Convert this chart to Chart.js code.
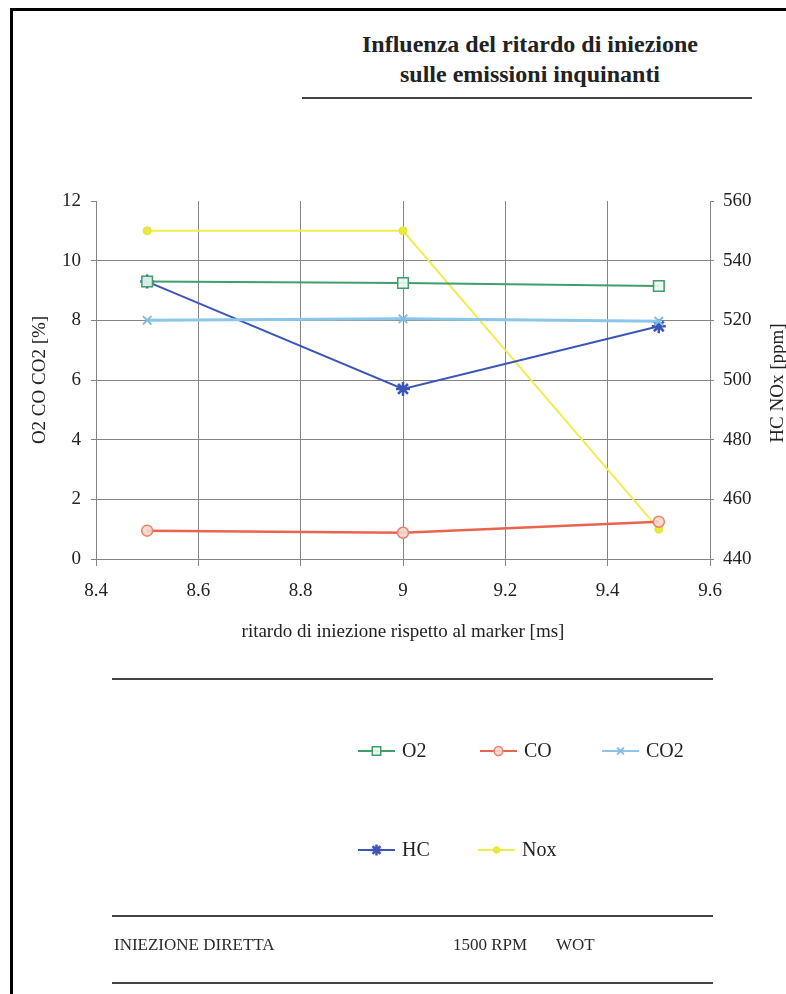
<!DOCTYPE html>
<html lang="it">
<head>
<meta charset="utf-8">
<title>Influenza del ritardo di iniezione sulle emissioni inquinanti</title>
<script src="https://cdn.jsdelivr.net/npm/chart.js"></script>
<style>
  html, body { margin: 0; padding: 0; background: #fff; }
  body {
    width: 786px; height: 994px; position: relative; overflow: hidden;
    font-family: "Liberation Serif", "Times New Roman", serif; color: #222;
  }
  #frame {
    position: absolute; left: 10px; top: 8px; right: 0; bottom: 0;
    border-left: 3px solid #000; border-top: 3px solid #000;
  }
  #emissionsChart { position: absolute; left: 0; top: 0; }
  .rule { position: absolute; height: 2px; background: #444; }
  .heading {
    position: absolute; left: 300px; width: 460px; text-align: center;
    font-weight: bold; font-size: 24px; line-height: 30px; color: #222;
  }
  .footer { position: absolute; top: 935px; font-size: 17px; line-height: 20px; color: #2a2a2a; }
</style>
</head>
<body>
<div id="frame"></div>

<div class="heading" style="top: 29px;">Influenza del ritardo di iniezione<br>sulle emissioni inquinanti</div>
<div class="rule" style="left: 302px; width: 450px; top: 97px;"></div>

<canvas id="emissionsChart" width="786" height="994"></canvas>

<div class="rule" style="left: 112px; width: 601px; top: 678px;"></div>
<div class="rule" style="left: 112px; width: 601px; top: 915px;"></div>
<div class="footer" style="left: 114px;">INIEZIONE DIRETTA</div>
<div class="footer" style="left: 453px;">1500 RPM</div>
<div class="footer" style="left: 556px;">WOT</div>
<div class="rule" style="left: 112px; width: 601px; top: 982px;"></div>

<script>
// ritardo di iniezione [ms]
const ritardo = [8.5, 9, 9.5];

// left axis, %
const o2 = [9.3, 9.25, 9.15];
const co = [0.95, 0.88, 1.25];
const co2 = [8.0, 8.05, 7.97];

// right axis, ppm
const hc = [533, 497, 518];
const nox = [550, 550, 450];

const xTicks = [8.4, 8.6, 8.8, 9, 9.2, 9.4, 9.6];
const yTicks = [0, 2, 4, 6, 8, 10, 12];
const y1Ticks = [440, 460, 480, 500, 520, 540, 560];

const FONT = '"Liberation Serif", "Times New Roman", serif';
const TEXT = '#222';
const GRID = '#858585';

function points(values) {
    return ritardo.map((x, i) => ({ x: x, y: values[i] }));
}

function fixedTicks(list) {
    return scale => { scale.ticks = list.map(v => ({ value: v })); };
}

// legend slots below the plot: two rows, three columns
const legendSlots = [[358, 751], [480, 751], [602, 751], [358, 850], [478, 850]];

const pageLegend = {
    id: 'pageLegend',
    afterDraw(chart) {
        const ctx = chart.ctx;
        chart.data.datasets.forEach((ds, i) => {
            const [x, y] = legendSlots[i];
            ctx.save();
            ctx.strokeStyle = ds.borderColor;
            ctx.lineWidth = Math.min(ds.borderWidth, 2);
            ctx.beginPath();
            ctx.moveTo(x, y);
            ctx.lineTo(x + 37, y);
            ctx.stroke();

            ctx.fillStyle = ds.pointBackgroundColor;
            ctx.strokeStyle = ds.pointBorderColor;
            ctx.lineWidth = ds.pointBorderWidth;
            Chart.helpers.drawPoint(ctx, {
                pointStyle: ds.pointStyle,
                radius: ds.pointRadius * 0.8,
                rotation: 0,
                borderWidth: ds.pointBorderWidth
            }, x + 18.5, y);

            ctx.fillStyle = TEXT;
            ctx.font = '20px ' + FONT;
            ctx.textBaseline = 'middle';
            ctx.textAlign = 'left';
            ctx.fillText(ds.label, x + 44, y + 1);
            ctx.restore();
        });
    }
};

// right axis title reads bottom-to-top like the left one
const rightTitle = {
    id: 'rightTitle',
    afterDraw(chart) {
        const { ctx, chartArea } = chart;
        const scale = chart.scales.y1;
        ctx.save();
        ctx.translate(scale.right - 8, (chartArea.top + chartArea.bottom) / 2 + 3);
        ctx.rotate(-Math.PI / 2);
        ctx.fillStyle = TEXT;
        ctx.font = '19px ' + FONT;
        ctx.textAlign = 'center';
        ctx.textBaseline = 'middle';
        ctx.fillText('HC NOx [ppm]', 0, 0);
        ctx.restore();
    }
};

const datasets = [
    {
        label: 'O2', data: points(o2), yAxisID: 'y',
        borderColor: '#3f9e6b', borderWidth: 2,
        pointStyle: 'rect', pointRadius: 7.5,
        pointBackgroundColor: 'rgba(235,248,240,0.9)', pointBorderColor: '#3f9e6b', pointBorderWidth: 1.5
    },
    {
        label: 'CO', data: points(co), yAxisID: 'y',
        borderColor: '#e8644f', borderWidth: 2.5,
        pointStyle: 'circle', pointRadius: 5.5,
        pointBackgroundColor: 'rgba(250,215,205,0.9)', pointBorderColor: '#e8826a', pointBorderWidth: 1.5
    },
    {
        label: 'CO2', data: points(co2), yAxisID: 'y',
        borderColor: '#8cc6ea', borderWidth: 3,
        pointStyle: 'crossRot', pointRadius: 6,
        pointBackgroundColor: '#8cc6ea', pointBorderColor: '#7fbde6', pointBorderWidth: 2
    },
    {
        label: 'HC', data: points(hc), yAxisID: 'y1',
        borderColor: '#3b56b8', borderWidth: 2,
        pointStyle: 'star', pointRadius: 7,
        pointBackgroundColor: '#3b56b8', pointBorderColor: '#3b56b8', pointBorderWidth: 2.5
    },
    {
        label: 'Nox', data: points(nox), yAxisID: 'y1',
        borderColor: '#eeee50', borderWidth: 2,
        pointStyle: 'circle', pointRadius: 4,
        pointBackgroundColor: '#eaea38', pointBorderColor: '#e2e238', pointBorderWidth: 1
    }
];

new Chart(document.getElementById('emissionsChart'), {
    type: 'line',
    data: { datasets: datasets },
    options: {
        responsive: false,
        animation: false,
        events: [],
        layout: { padding: { top: 201, right: 0, bottom: 340, left: 0 } },
        plugins: {
            legend: { display: false },
            tooltip: { enabled: false }
        },
        scales: {
            x: {
                type: 'linear',
                min: 8.4, max: 9.6,
                afterBuildTicks: fixedTicks(xTicks),
                afterFit: scale => { scale.height = 95; },
                grid: { color: GRID, lineWidth: 1, tickLength: 7, tickColor: GRID },
                border: { display: true, color: GRID, width: 1 },
                ticks: {
                    color: TEXT, padding: 14, maxRotation: 0,
                    font: { family: FONT, size: 19 },
                    callback: v => String(v)
                },
                title: {
                    display: true,
                    text: 'ritardo di iniezione rispetto al marker [ms]',
                    color: TEXT,
                    font: { family: FONT, size: 19 },
                    padding: { top: 0, bottom: 11 }
                }
            },
            y: {
                position: 'left',
                min: 0, max: 12,
                afterBuildTicks: fixedTicks(yTicks),
                afterFit: scale => { scale.width = 96; },
                grid: {
                    color: c => (c.tick && c.tick.value === 12) ? 'rgba(0,0,0,0)' : GRID,
                    tickColor: GRID, lineWidth: 1, tickLength: 5
                },
                border: { display: true, color: GRID, width: 1 },
                ticks: {
                    color: TEXT, padding: 10,
                    font: { family: FONT, size: 19 },
                    callback: v => String(v)
                },
                title: {
                    display: true,
                    text: 'O2 CO CO2 [%]',
                    color: TEXT,
                    font: { family: FONT, size: 19 },
                    padding: { top: 29, bottom: 0 }
                }
            },
            y1: {
                position: 'right',
                min: 440, max: 560,
                afterBuildTicks: fixedTicks(y1Ticks),
                afterFit: scale => { scale.width = 76; },
                grid: { drawOnChartArea: false, color: GRID, tickColor: GRID, tickLength: 4 },
                border: { display: true, color: GRID, width: 1 },
                ticks: {
                    color: TEXT, padding: 9,
                    font: { family: FONT, size: 19 },
                    callback: v => String(v)
                }
            }
        }
    },
    plugins: [pageLegend, rightTitle]
});
</script>
</body>
</html>
